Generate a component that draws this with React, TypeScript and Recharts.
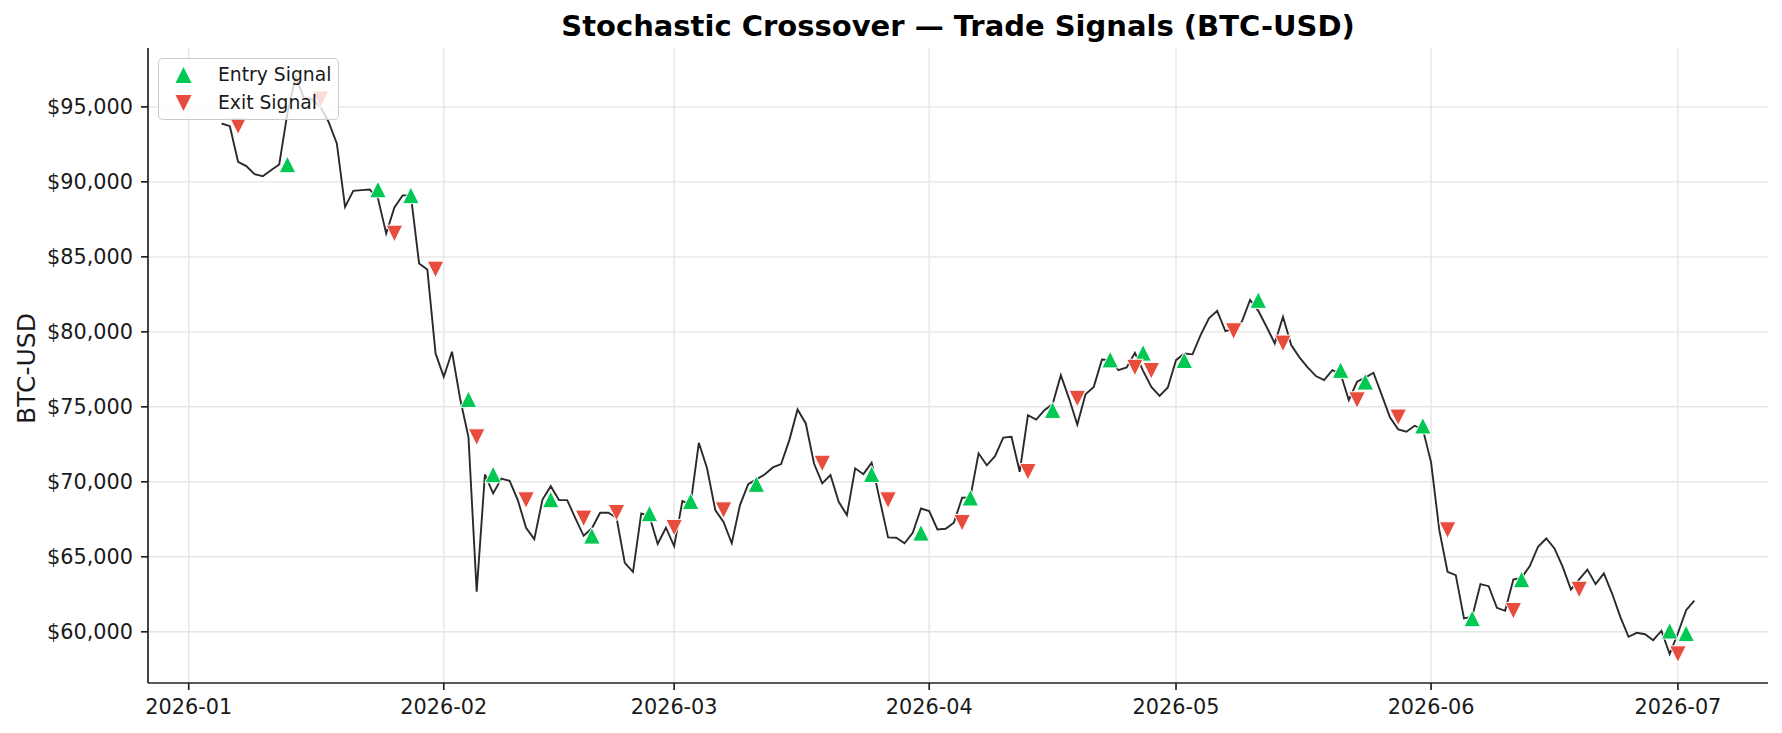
import React from 'react';
import { ComposedChart, Line, Scatter, XAxis, YAxis, CartesianGrid, Legend } from 'recharts';

// Daily BTC-USD closes, one per calendar day starting at FIRST_SESSION.
const FIRST_SESSION = '2026-01-05';
const closes = [
  93890, 93710, 91330, 91050, 90510, 90380, 90780, 91160, 94600, 97000,
  95600, 95500, 95000, 94000, 92560, 88330, 89400, 89450, 89490, 88900,
  86560, 88300, 89100, 89100, 84560, 84160, 78560, 77000, 78670, 75500,
  72980, 62670, 70490, 69230, 70220, 70070, 68780, 66940, 66180, 68820,
  69710, 68780, 68780, 67560, 66400, 66900, 67940, 67940, 67600, 64600,
  64000, 67890, 67700, 65850, 66940, 65710, 68710, 68500, 72600, 70900,
  68110, 67330, 65900, 68450, 69850, 70160, 70490, 70960, 71180, 72780,
  74820, 73890, 71220, 69900, 70450, 68670, 67780, 70900, 70510, 71270,
  68780, 66290, 66270, 65900, 66600, 68220, 68050, 66820, 66870, 67270,
  68940, 68960, 71900, 71100, 71710, 72950, 73000, 70670, 74440, 74150,
  74780, 75180, 77110, 75550, 73820, 75840, 76330, 78150, 78110, 77440,
  77620, 78600, 77400, 76330, 75730, 76290, 78110, 78550, 78500, 79800,
  80900, 81400, 80050, 80200, 80670, 82120, 81400, 80340, 79230, 81000,
  79120, 78300, 77630, 77050, 76780, 77450, 77200, 75450, 76670, 76950,
  77270, 75800, 74300, 73500, 73340, 73740, 73500, 71300, 66780, 64000,
  63780, 60890, 61000, 63180, 63040, 61600, 61400, 63490, 63600, 64380,
  65670, 66220, 65560, 64330, 62820, 63490, 64150, 63180, 63890, 62550,
  61000, 59670, 59930, 59840, 59440, 60070, 58510, 59900, 61440, 62070,
];

// Stochastic %K/%D crossovers: bullish (entry) and bearish (exit) signals.
const entryDates = [
  '2026-01-13', '2026-01-24', '2026-01-28', '2026-02-04', '2026-02-07',
  '2026-02-14', '2026-02-19', '2026-02-26', '2026-03-03', '2026-03-11',
  '2026-03-25', '2026-03-31', '2026-04-06', '2026-04-16', '2026-04-23',
  '2026-04-27', '2026-05-02', '2026-05-11', '2026-05-21', '2026-05-24',
  '2026-05-31', '2026-06-06', '2026-06-12', '2026-06-30', '2026-07-02',
];
const entryPrices = [
  91160, 89490, 89100, 75500, 70490, 68820, 66400, 67890, 68710, 69850,
  70510, 66600, 68940, 74780, 78150, 78600, 78110, 82120, 77450, 76670,
  73740, 60890, 63490, 60070, 59900,
];
const exitDates = [
  '2026-01-07', '2026-01-17', '2026-01-26', '2026-01-31', '2026-02-05',
  '2026-02-11', '2026-02-18', '2026-02-22', '2026-03-01', '2026-03-07',
  '2026-03-19', '2026-03-27', '2026-04-05', '2026-04-13', '2026-04-19',
  '2026-04-26', '2026-04-28', '2026-05-08', '2026-05-14', '2026-05-23',
  '2026-05-28', '2026-06-03', '2026-06-11', '2026-06-19', '2026-07-01',
];
const exitPrices = [
  93710, 95500, 86560, 84160, 72980, 68780, 67560, 67940, 66940, 68110,
  71220, 68780, 67270, 70670, 75550, 77620, 77400, 80050, 79230, 75450,
  74300, 66780, 61400, 62820, 58510,
];

const monthTicks = [
  '2026-01-01', '2026-02-01', '2026-03-01', '2026-04-01',
  '2026-05-01', '2026-06-01', '2026-07-01',
];
const priceTicks = [60000, 65000, 70000, 75000, 80000, 85000, 90000, 95000];

const TITLE = 'Stochastic Crossover \u2014 Trade Signals (BTC-USD)';
const Y_LABEL = 'BTC-USD';
const ENTRY_COLOR = '#00c853';
const EXIT_COLOR = '#e74c3c';
const FONT = '"DejaVu Sans", "Liberation Sans", sans-serif';

const DAY_MS = 86400000;
const toMs = (d: string) => Date.parse(`${d}T00:00:00Z`);

const startMs = toMs(FIRST_SESSION);
const priceData = closes.map((price, i) => ({ t: startMs + i * DAY_MS, price }));
const entryData = entryDates.map((d, i) => ({ t: toMs(d), price: entryPrices[i] }));
const exitData = exitDates.map((d, i) => ({ t: toMs(d), price: exitPrices[i] }));
const monthTickMs = monthTicks.map(toMs);

// 5% padding on both axes around the plotted data
const firstT = priceData[0].t;
const lastT = priceData[priceData.length - 1].t;
const tSpan = lastT - firstT;
const xDomain: [number, number] = [firstT - 0.05 * tSpan, lastT + 0.05 * tSpan];

const allPrices = [...closes, ...entryPrices, ...exitPrices];
const pMin = Math.min(...allPrices);
const pMax = Math.max(...allPrices);
const pSpan = pMax - pMin;
const yDomain: [number, number] = [pMin - 0.05 * pSpan, pMax + 0.05 * pSpan];

const W = 1782;
const H = 733;
const MARGIN = { top: 48, right: 14, bottom: 0, left: 0 };
const Y_AXIS_W = 148;
const X_AXIS_H = 50;
const plotLeft = MARGIN.left + Y_AXIS_W;
const plotRight = W - MARGIN.right;
const plotTop = MARGIN.top;
const plotBottom = H - MARGIN.bottom - X_AXIS_H;

const fmtMonth = (ms: number) => {
  const d = new Date(ms);
  return `${d.getUTCFullYear()}-${String(d.getUTCMonth() + 1).padStart(2, '0')}`;
};
const fmtPrice = (v: number) => `$${String(Math.round(v)).replace(/\B(?=(\d{3})+(?!\d))/g, ',')}`;

// Grid lines sit only at the labelled ticks (no frame along the top or right edge)
const gridRows = priceTicks.map(
  (v) => plotTop + ((yDomain[1] - v) / (yDomain[1] - yDomain[0])) * (plotBottom - plotTop),
);
const gridCols = monthTickMs.map(
  (v) => plotLeft + ((v - xDomain[0]) / (xDomain[1] - xDomain[0])) * (plotRight - plotLeft),
);

const HALF = 8.3;
const trianglePath = (cx: number, cy: number, up: boolean, h = HALF) =>
  up
    ? `M${cx},${cy - h}L${cx + h},${cy + h}L${cx - h},${cy + h}Z`
    : `M${cx},${cy + h}L${cx + h},${cy - h}L${cx - h},${cy - h}Z`;

const makeMarker = (up: boolean, color: string) => (props: any) => {
  const { cx, cy } = props;
  if (cx == null || cy == null) return <g />;
  return <path d={trianglePath(cx, cy, up)} fill={color} stroke="#ffffff" strokeWidth={1} />;
};

const EntryMarker = makeMarker(true, ENTRY_COLOR);
const ExitMarker = makeMarker(false, EXIT_COLOR);

const SignalLegend = (props: any) => {
  const items = (props.payload || []).filter((p: any) => p.type !== 'none');
  return (
    <div
      style={{
        boxSizing: 'border-box',
        width: 181,
        height: 62,
        background: 'rgba(255,255,255,0.8)',
        border: '1.5px solid rgba(190,190,190,0.8)',
        borderRadius: 5,
        position: 'relative',
        fontFamily: FONT,
        fontSize: 18.75,
        color: '#1a1a1a',
      }}
    >
      {items.map((item: any, i: number) => {
        const up = item.value === 'Entry Signal';
        const rowY = 16 + i * 28;
        return (
          <div key={item.value} style={{ position: 'absolute', left: 0, top: rowY - 13, height: 26, width: '100%' }}>
            <svg width={50} height={26} style={{ position: 'absolute', left: 0, top: 0 }}>
              <path d={trianglePath(24.5, 13, up, 8)} fill={item.color} />
            </svg>
            <span style={{ position: 'absolute', left: 59, top: 0, lineHeight: '26px', whiteSpace: 'nowrap' }}>
              {item.value}
            </span>
          </div>
        );
      })}
    </div>
  );
};

export default function App() {
  return (
    <div style={{ position: 'absolute', left: 0, top: 0, width: W, height: H, background: '#ffffff' }}>
      <ComposedChart width={W} height={H} data={priceData} margin={MARGIN}>
        <CartesianGrid
          stroke="#e6e6e6"
          strokeWidth={1.4}
          horizontalPoints={gridRows}
          verticalPoints={gridCols}
        />
        <XAxis
          dataKey="t"
          type="number"
          domain={xDomain}
          allowDataOverflow
          ticks={monthTickMs}
          tickFormatter={fmtMonth}
          height={X_AXIS_H}
          tickSize={7}
          tickMargin={9}
          axisLine={{ stroke: '#222222', strokeWidth: 1.7 }}
          tickLine={{ stroke: '#222222', strokeWidth: 1.7 }}
          tick={{ fill: '#1a1a1a', fontSize: 20.8, fontFamily: FONT }}
          interval={0}
        />
        <YAxis
          type="number"
          domain={yDomain}
          allowDataOverflow
          ticks={priceTicks}
          tickFormatter={fmtPrice}
          width={Y_AXIS_W}
          tickSize={7}
          tickMargin={8}
          axisLine={{ stroke: '#222222', strokeWidth: 1.7 }}
          tickLine={{ stroke: '#222222', strokeWidth: 1.7 }}
          tick={{ fill: '#1a1a1a', fontSize: 20.8, fontFamily: FONT }}
          interval={0}
        />
        <Line
          dataKey="price"
          name="Close"
          stroke="#2a2a2a"
          strokeWidth={1.9}
          dot={false}
          activeDot={false}
          legendType="none"
          isAnimationActive={false}
        />
        <Scatter
          name="Entry Signal"
          data={entryData}
          dataKey="price"
          fill={ENTRY_COLOR}
          shape={EntryMarker}
          legendType="triangle"
          isAnimationActive={false}
        />
        <Scatter
          name="Exit Signal"
          data={exitData}
          dataKey="price"
          fill={EXIT_COLOR}
          shape={ExitMarker}
          legendType="triangle"
          isAnimationActive={false}
        />
        <Legend
          layout="vertical"
          align="center"
          verticalAlign="middle"
          content={SignalLegend}
          wrapperStyle={{ left: 158, top: 58, width: 181, height: 62 }}
        />
        <text
          x={(plotLeft + plotRight) / 2}
          y={36}
          textAnchor="middle"
          fontFamily={FONT}
          fontWeight="bold"
          fontSize={29}
          fill="#000000"
        >
          {TITLE}
        </text>
        <text
          transform={`translate(35, ${(plotTop + plotBottom) / 2 + 3}) rotate(-90)`}
          textAnchor="middle"
          fontFamily={FONT}
          fontSize={25}
          fill="#1a1a1a"
        >
          {Y_LABEL}
        </text>
      </ComposedChart>
    </div>
  );
}
